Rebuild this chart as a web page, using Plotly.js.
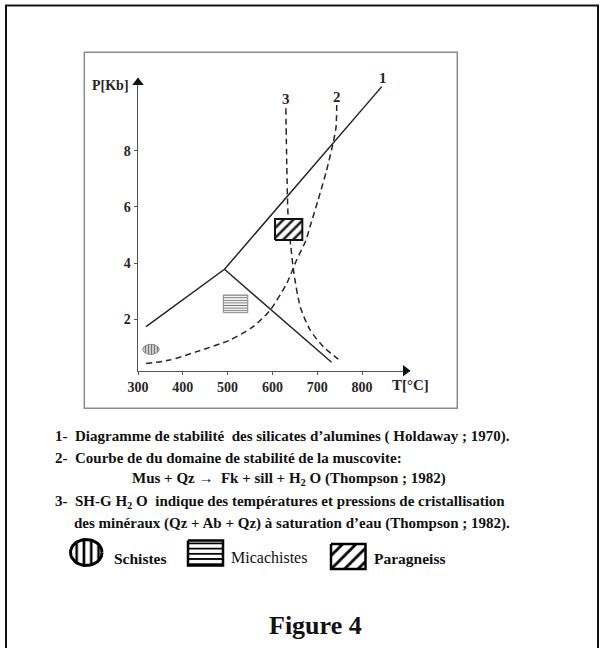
<!DOCTYPE html>
<html><head><meta charset="utf-8">
<script src="https://cdn.plot.ly/plotly-3.0.1.min.js"></script>
<style>html,body{margin:0;padding:0;background:#fff}#chart{width:602px;height:648px}</style>
</head><body><div id="chart"></div>
<script>
// ---------- data ----------
const xTicks = [300, 400, 500, 600, 700, 800];
const yTicks = [2, 4, 6, 8];
// curve 1 (Holdaway 1970) : lower-left branch + upper branch through triple point
const curve1T = [318, 416, 493, 844];
const curve1P = [1.74, 2.89, 3.78, 10.28];
const branchT = [493, 732];
const branchP = [3.78, 0.47];
// curve 2 (muscovite breakdown)
const curve2T = [318, 371, 431, 505, 557, 595, 632, 654, 675, 684, 702, 721, 736, 742, 743.5];
const curve2P = [0.43, 0.55, 0.85, 1.26, 1.74, 2.33, 3.28, 4.11, 4.82, 5.30, 6.25, 7.31, 8.32, 8.85, 9.63];
// curve 3 (water-saturated granite solidus)
const curve3T = [630, 632, 635, 641, 648, 662, 684, 714, 747];
const curve3P = [9.51, 7.5, 5.65, 4.6, 3.64, 2.45, 1.62, 1.02, 0.58];
const curveLabels = ['1', '2', '3'];
const labelT = [847.5, 743.5, 630.4];
const labelP = [10.6, 9.92, 9.83];
// rock fields (T range, P range)
const schistesT = [310.4, 347.2], schistesP = [0.75, 1.11];
const micaT = [490.4, 544.9], micaP = [2.235, 2.865];
const paraT = [605.8, 666.7], paraP = [4.82, 5.57];
const legendNames = ['Schistes', 'Micachistes', 'Paragneiss'];
const notes = [
  '1-\u00a0\u00a0Diagramme de stabilité\u00a0\u00a0des silicates d’alumines (\u00a0Holdaway ; 1970).',
  '2-\u00a0\u00a0Courbe de du domaine de stabilité de la muscovite:',
  'Mus + Qz →\u00a0\u00a0Fk + sill + H<sub>2</sub>\u00a0O (Thompson ; 1982)',
  '3-\u00a0\u00a0SH-G H<sub>2</sub>\u00a0O\u00a0\u00a0indique des températures et pressions de cristallisation',
  'des minéraux (Qz + Ab + Qz) à saturation d’eau (Thompson ; 1982).'
];
const figTitle = 'Figure 4';

// ---------- helpers ----------
const W = 602, H = 648;
const PX = x => x / W, PY = y => 1 - y / H;
const X0 = 300, X1 = 907, Y0 = 0.171, Y1 = 10.587;           // axis ranges
const DX = [138, 410], DY = [370.7, 78];                      // plot area in pixels
const tx = t => DX[0] + (t - X0) / (X1 - X0) * (DX[1] - DX[0]);
const ty = p => DY[0] + (p - Y0) / (Y1 - Y0) * (DY[1] - DY[0]);
function rect(xr, yr) { return {x: [xr[0], xr[1], xr[1], xr[0], xr[0]], y: [yr[0], yr[0], yr[1], yr[1], yr[0]]}; }
function ellipse(xr, yr) {
  const cx = (xr[0] + xr[1]) / 2, cy = (yr[0] + yr[1]) / 2, rx = (xr[1] - xr[0]) / 2, ry = (yr[1] - yr[0]) / 2;
  const x = [], y = [];
  for (let i = 0; i <= 48; i++) { const a = i / 48 * 2 * Math.PI; x.push(cx + rx * Math.cos(a)); y.push(cy + ry * Math.sin(a)); }
  return {x, y};
}
const serif = 'Liberation Serif, Times New Roman, serif';
const ink = '#262626';

const traces = [];
traces.push({x: curve1T, y: curve1P, mode: 'lines', line: {color: ink, width: 1.5}});
traces.push({x: branchT, y: branchP, mode: 'lines', line: {color: ink, width: 1.5}});
traces.push({x: curve2T, y: curve2P, mode: 'lines', line: {color: ink, width: 1.5, dash: '6px,4px', shape: 'spline', smoothing: 0.7}});
traces.push({x: curve3T, y: curve3P, mode: 'lines', line: {color: ink, width: 1.5, dash: '6px,4px', shape: 'spline', smoothing: 0.7}});
// rock fields in the diagram
const e1 = ellipse(schistesT, schistesP);
traces.push({x: e1.x, y: e1.y, mode: 'lines', fill: 'toself', line: {color: '#888', width: 1},
  fillpattern: {shape: '|', size: 3, solidity: 0.4, fgcolor: '#777', bgcolor: '#d6d6d6', fillmode: 'replace'}});
const r1 = rect(micaT, micaP);
traces.push({x: r1.x, y: r1.y, mode: 'lines', fill: 'toself', line: {color: '#888', width: 1},
  fillpattern: {shape: '-', size: 2.6, solidity: 0.4, fgcolor: '#777', bgcolor: '#ffffff', fillmode: 'replace'}});
const r2 = rect(paraT, paraP);
traces.push({x: r2.x, y: r2.y, mode: 'lines', fill: 'toself', line: {color: '#111', width: 2},
  fillpattern: {shape: '/', size: 7, solidity: 0.35, fgcolor: '#111', bgcolor: '#ffffff', fillmode: 'replace'}});

// axis arrowheads (pixel overlay)
traces.push({x: [tx(X1) - 4.5, tx(X0)], y: [ty(Y0), ty(Y1) + 4.5], xaxis: 'x2', yaxis: 'y2', mode: 'markers', cliponaxis: false,
  marker: {symbol: ['triangle-right', 'triangle-up'], size: 10, color: '#111', line: {width: 0}}});
// legend swatches on a pixel overlay axis
const le = ellipse([70.5, 102], [539.5, 565.5]);
traces.push({x: le.x, y: le.y, xaxis: 'x2', yaxis: 'y2', mode: 'lines', fill: 'toself', line: {color: '#000', width: 3},
  fillpattern: {shape: '|', size: 7.3, solidity: 0.35, fgcolor: '#000', bgcolor: '#fff', fillmode: 'replace'}});
const lr1 = rect([188, 223], [540.5, 565.5]);
traces.push({x: lr1.x, y: lr1.y, xaxis: 'x2', yaxis: 'y2', mode: 'lines', fill: 'toself', line: {color: '#000', width: 2.5},
  fillpattern: {shape: '-', size: 5.2, solidity: 0.35, fgcolor: '#000', bgcolor: '#fff', fillmode: 'replace'}});
const lr2 = rect([331, 365.5], [544, 569]);
traces.push({x: lr2.x, y: lr2.y, xaxis: 'x2', yaxis: 'y2', mode: 'lines', fill: 'toself', line: {color: '#000', width: 2.5},
  fillpattern: {shape: '/', size: 9.5, solidity: 0.3, fgcolor: '#000', bgcolor: '#fff', fillmode: 'replace'}});
traces.forEach(t => { t.hoverinfo = 'skip'; t.showlegend = false; });

const annotations = [];
// curve labels (placed in paper space from their data position so the top one is not hidden)
curveLabels.forEach((s, i) => annotations.push({x: PX(tx(labelT[i])), y: PY(ty(labelP[i])), xref: 'paper', yref: 'paper',
  xanchor: 'center', yanchor: 'middle', text: s, showarrow: false,
  font: {family: serif, size: 15, color: ink, weight: 'bold'}}));
// axis titles
annotations.push({x: PX(131), y: PY(85), xref: 'paper', yref: 'paper', xanchor: 'right', yanchor: 'middle', text: 'P[Kb]', showarrow: false,
  font: {family: serif, size: 14, color: ink, weight: 'bold'}});
annotations.push({x: PX(390), y: PY(385), xref: 'paper', yref: 'paper', xanchor: 'left', yanchor: 'middle', text: 'T[°C]', showarrow: false,
  font: {family: serif, size: 15, color: ink, weight: 'bold'}});
// notes
const noteX = [53, 53, 130, 53, 72];
const noteY = [436, 458, 479, 502, 523];
notes.forEach((s, i) => annotations.push({x: PX(noteX[i]), y: PY(noteY[i]), xref: 'paper', yref: 'paper', xanchor: 'left', yanchor: 'middle',
  align: 'left', text: s, showarrow: false, font: {family: serif, size: 15, color: '#111', weight: 'bold'}}));
// legend labels
const legX = [112, 229, 372], legY = [558, 557, 558];
legendNames.forEach((s, i) => annotations.push({x: PX(legX[i]), y: PY(legY[i]), xref: 'paper', yref: 'paper', xanchor: 'left', yanchor: 'middle',
  text: s, showarrow: false, font: {family: serif, size: i === 1 ? 16 : 15.5, color: '#111', weight: i === 1 ? 'normal' : 'bold'}}));
annotations.push({x: PX(315), y: PY(625), xref: 'paper', yref: 'paper', xanchor: 'center', yanchor: 'middle', text: figTitle, showarrow: false,
  font: {family: serif, size: 26, color: '#111', weight: 'bold'}});

const axisFont = {family: serif, size: 14, color: ink, weight: 'bold'};
const layout = {
  width: W, height: H, margin: {l: 0, r: 0, t: 0, b: 0, pad: 0},
  paper_bgcolor: '#fff', plot_bgcolor: 'rgba(0,0,0,0)', showlegend: false,
  xaxis: {domain: [PX(DX[0]), PX(DX[1])], range: [X0, X1], tickvals: xTicks, ticktext: xTicks.map(String),
    showline: true, linecolor: '#555', linewidth: 1.5, ticks: 'outside', ticklen: 3, tickcolor: '#555',
    showgrid: false, zeroline: false, tickfont: axisFont, fixedrange: true},
  yaxis: {domain: [PY(DY[0]), PY(DY[1])], range: [Y0, Y1], tickvals: yTicks, ticktext: yTicks.map(String),
    showline: true, linecolor: '#555', linewidth: 1.5, ticks: 'outside', ticklen: 3, tickcolor: '#555',
    showgrid: false, zeroline: false, tickfont: axisFont, fixedrange: true},
  xaxis2: {domain: [0, 1], range: [0, W], visible: false, anchor: 'y2', fixedrange: true},
  yaxis2: {domain: [0, 1], range: [H, 0], visible: false, anchor: 'x2', fixedrange: true},
  shapes: [
    {type: 'rect', xref: 'paper', yref: 'paper', x0: PX(84.3), x1: PX(457.3), y0: PY(408.3), y1: PY(52.3), line: {color: '#8c8c8c', width: 1.5}, layer: 'below'},
    {type: 'rect', xref: 'paper', yref: 'paper', x0: PX(6), x1: PX(598), y0: PY(680), y1: PY(5.5), line: {color: '#111', width: 2}, layer: 'below'}
  ],
  annotations: annotations
};
Plotly.newPlot('chart', traces, layout, {staticPlot: true, displayModeBar: false});
</script></body></html>
